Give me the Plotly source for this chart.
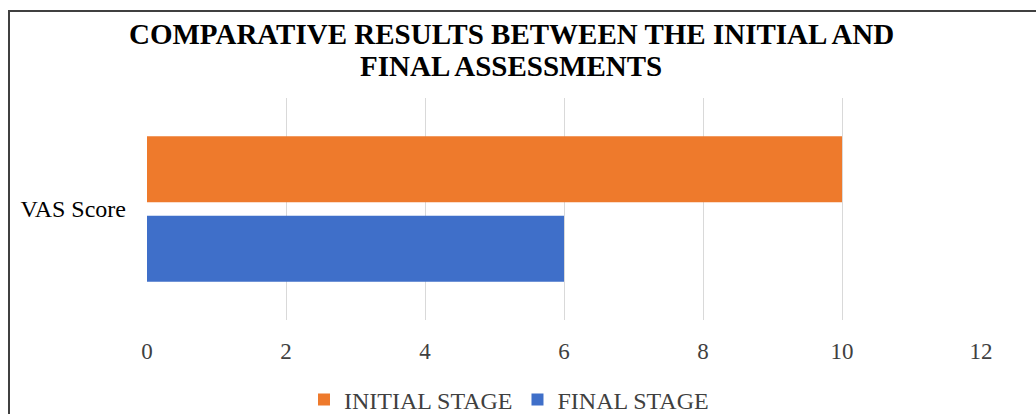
import plotly.graph_objects as go

categories = ["VAS Score"]
initial_stage = [10]
final_stage = [6]
x_ticks = [0, 2, 4, 6, 8, 10, 12]
title_lines = ["COMPARATIVE RESULTS BETWEEN THE INITIAL AND", "FINAL ASSESSMENTS"]

SERIF = "Liberation Serif, Times New Roman, serif"

fig = go.Figure()
fig.add_trace(go.Bar(
    y=categories, x=final_stage, orientation="h", name="FINAL STAGE",
    marker=dict(color="#3F6FC9", line=dict(width=0)),
))
fig.add_trace(go.Bar(
    y=categories, x=initial_stage, orientation="h", name="INITIAL STAGE",
    marker=dict(color="#EE7A2C", line=dict(width=0)),
))

W, H = 1036, 414
L, R, T, B = 147, 55, 98, 94
pw, ph = W - L - R, H - T - B

annotations = []
for line, ypx in zip(title_lines, [34, 66]):
    annotations.append(dict(
        text=f"<b>{line}</b>", showarrow=False,
        xref="paper", yref="paper",
        x=(511 - L) / pw, xanchor="center",
        y=(H - B - ypx) / ph, yanchor="middle",
        font=dict(family=SERIF, size=29, color="#000000"),
    ))

fig.update_layout(
    width=W, height=H,
    margin=dict(l=L, r=R, t=T, b=B, autoexpand=False),
    paper_bgcolor="white", plot_bgcolor="white",
    barmode="group", bargap=0.284, bargroupgap=0.17,
    annotations=annotations,
    xaxis=dict(
        range=[0, 12], tickvals=x_ticks, ticktext=[str(v) for v in x_ticks],
        showgrid=True, gridcolor="#D9D9D9", gridwidth=1,
        zeroline=False, showline=False, ticks="",
        ticklabelstandoff=15,
        tickfont=dict(family=SERIF, size=23, color="#404040"),
    ),
    yaxis=dict(
        showgrid=False, zeroline=False, showline=False, ticks="",
        ticklabelstandoff=20,
        tickfont=dict(family=SERIF, size=24, color="#000000"),
    ),
    legend=dict(
        orientation="h", traceorder="reversed",
        x=(509 - L) / pw, xanchor="center", xref="paper",
        y=-80 / ph, yanchor="middle",
        font=dict(family=SERIF, size=24, color="#404040"),
        itemwidth=30,
    ),
    showlegend=True,
    shapes=[dict(
        type="rect", xref="paper", yref="paper",
        x0=(9 - L) / pw, x1=(W + 10 - L) / pw,
        y0=-(H + 10 - (H - B)) / ph, y1=(H - B - 11) / ph,
        line=dict(color="#404040", width=2), fillcolor="rgba(0,0,0,0)",
        layer="above",
    )],
)

fig.write_html("out.html")
